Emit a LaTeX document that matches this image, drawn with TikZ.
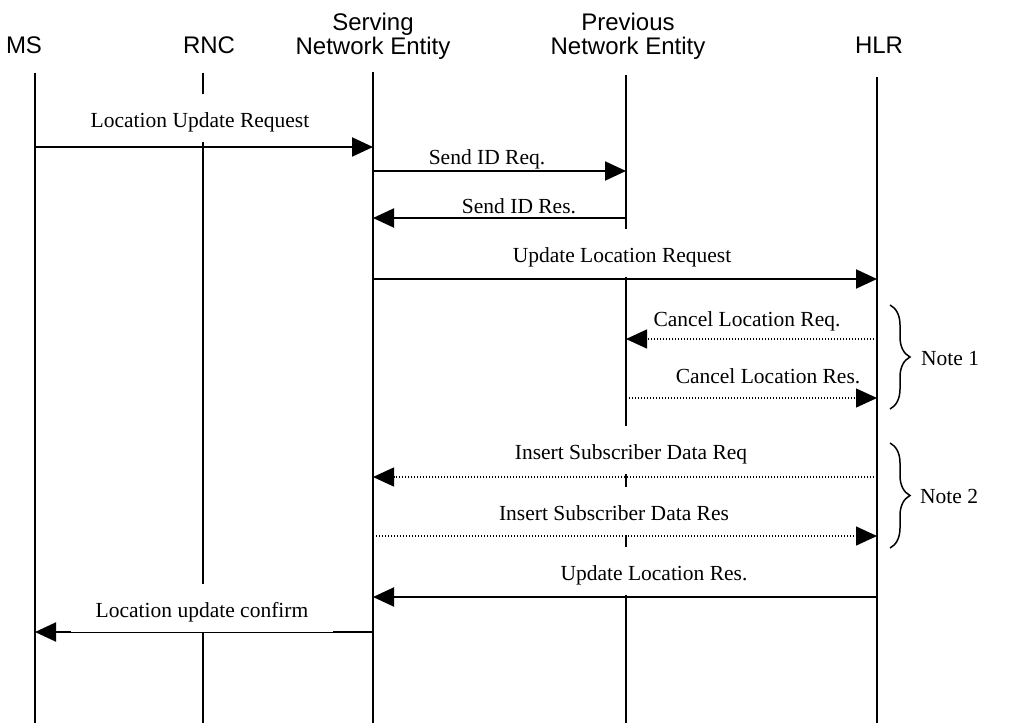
\documentclass[tikz,border=0pt]{standalone}
\usepackage{fontspec}
\setmainfont{Liberation Serif}
\newfontfamily\hdrfont{Liberation Sans}
\usetikzlibrary{arrows.meta,decorations.pathreplacing}
\begin{document}
\begin{tikzpicture}[x=1pt,y=-1pt,
  life/.style={line width=2pt},
  msg/.style={line width=2pt,-{Triangle[length=21pt,width=19pt]}},
  opt/.style={line width=1.3pt,dash pattern=on 1.3pt off 1.7pt,-{Triangle[length=21pt,width=19pt]}},
  lbl/.style={fill=white,inner xsep=12pt,inner ysep=0pt,text height=33pt,text depth=15pt,anchor=base,font=\fontsize{21.5}{24}\selectfont},
  hdr/.style={font=\hdrfont\fontsize{24}{24.5}\selectfont,align=center,inner sep=0pt},
  brc/.style={decorate,decoration={brace,amplitude=20pt},line width=1.5pt},
  note/.style={font=\fontsize{21.5}{24}\selectfont,anchor=base west,inner sep=0pt}]
\useasboundingbox (0,0) rectangle (1035,723);

% headers
\node[hdr,anchor=base] (msH) at (24,53) {MS};
\node[hdr,anchor=base] (rncH) at (209,53) {RNC};
\node[hdr,anchor=south] (sneH) at (373,60) {Serving\\Network Entity};
\node[hdr,anchor=south] (pneH) at (628,60) {Previous\\Network Entity};
\node[hdr,anchor=base] (hlrH) at (879,53) {HLR};

% lifelines
\coordinate (ms) at (35,73);
\coordinate (rnc) at (203,73);
\coordinate (sne) at (373,72);
\coordinate (pne) at (626,75);
\coordinate (hlr) at (877,77);
\coordinate (bot) at (0,723);
\foreach \l in {ms,rnc,sne,pne,hlr} \draw[life] (\l) -- (\l |- bot);

% message rows
\coordinate (m1) at (0,147);
\coordinate (m2) at (0,171);
\coordinate (m3) at (0,218);
\coordinate (m4) at (0,279);
\coordinate (m5) at (0,339);
\coordinate (m6) at (0,398);
\coordinate (m7) at (0,477);
\coordinate (m8) at (0,536);
\coordinate (m9) at (0,597);
\coordinate (m10) at (0,632);

% labels
\node[lbl] (l1) at (200,127) {Location Update Request};
\node[lbl] (l2) at (487,164) {Send ID Req.};
\node[lbl] (l3) at (519,213) {Send ID Res.};
\node[lbl] (l4) at (622,262) {Update Location Request};
\node[lbl] (l5) at (747,326) {Cancel Location Req.};
\node[lbl] (l6) at (768,383) {Cancel Location Res.};
\node[lbl] (l7) at (631,459) {Insert Subscriber Data Req};
\node[lbl] (l8) at (614,520) {Insert Subscriber Data Res};
\node[lbl] (l9) at (654,580) {Update Location Res.};

% arrows
\draw[msg] (ms |- m1) -- (sne |- m1);
\draw[msg] (sne |- m2) -- (pne |- m2);
\draw[msg] (pne |- m3) -- (sne |- m3);
\draw[msg] (sne |- m4) -- (hlr |- m4);
\draw[opt] (hlr |- m5) -- (pne |- m5);
\draw[opt] (pne |- m6) -- (hlr |- m6);
\draw[opt] (hlr |- m7) -- (sne |- m7);
\draw[opt] (sne |- m8) -- (hlr |- m8);
\draw[msg] (hlr |- m9) -- (sne |- m9);
\draw[msg] (sne |- m10) -- (ms |- m10);
\node[lbl,inner xsep=25pt] (l10) at (202,617) {Location update confirm};

% notes
\coordinate (b1t) at (890,305);
\coordinate (b1b) at (890,409);
\coordinate (b2t) at (890,443);
\coordinate (b2b) at (890,548);
\draw[brc] (b1t) -- (b1b);
\draw[brc] (b2t) -- (b2b);
\node[note] (n1) at (921,365) {Note 1};
\node[note] (n2) at (920,503) {Note 2};
\end{tikzpicture}
\end{document}
